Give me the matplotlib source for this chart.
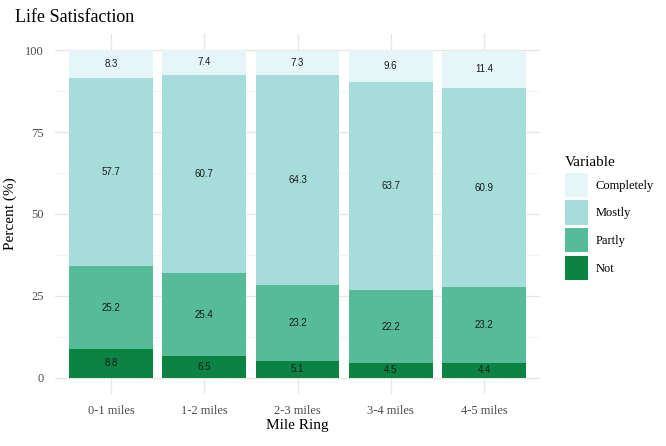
import matplotlib
matplotlib.use("Agg")
import matplotlib.pyplot as plt
import numpy as np

categories = ["0-1 miles", "1-2 miles", "2-3 miles", "3-4 miles", "4-5 miles"]
not_vals = [8.8, 6.5, 5.1, 4.5, 4.4]
partly_vals = [25.2, 25.4, 23.2, 22.2, 23.2]
mostly_vals = [57.7, 60.7, 64.3, 63.7, 60.9]
completely_vals = [8.3, 7.4, 7.3, 9.6, 11.4]

series = [("Not", not_vals, "#0b8443"),
          ("Partly", partly_vals, "#55bb98"),
          ("Mostly", mostly_vals, "#a6dcda"),
          ("Completely", completely_vals, "#e6f5f8")]

serif = "Liberation Serif"
fig = plt.figure(figsize=(6.66, 4.46), dpi=100)
ax = fig.add_axes([55/666, 1-394/446, (540-55)/666, (394-34)/446])

x = np.arange(1, len(categories) + 1)
bottom = np.zeros(len(categories))
handles = {}
for name, vals, col in series:
    vals = np.array(vals)
    b = ax.bar(x, vals, width=0.9, bottom=bottom, color=col, edgecolor="none", zorder=2)
    handles[name] = b
    for xi, bi, vi in zip(x, bottom, vals):
        ax.text(xi, bi + vi / 2, f"{vi:.1f}", ha="center", va="center",
                fontsize=7, family="Liberation Sans", color="#1a1a1a", zorder=3)
    bottom += vals

ax.set_xlim(0.4, 5.6)
ax.set_ylim(-5, 105)
ax.set_yticks([0, 25, 50, 75, 100])
ax.set_yticks([12.5, 37.5, 62.5, 87.5], minor=True)
ax.set_xticks(x)
ax.set_xticklabels(categories)
ax.grid(True, which="major", color="#e6e6e6", linewidth=0.9, zorder=0)
ax.grid(True, which="minor", axis="y", color="#f2f2f2", linewidth=0.6, zorder=0)
ax.set_axisbelow(True)
for s in ax.spines.values():
    s.set_visible(False)
ax.tick_params(which="both", length=0)
ax.tick_params(labelsize=9, labelcolor="#4d4d4d", pad=8)
for lab in ax.get_xticklabels() + ax.get_yticklabels():
    lab.set_family(serif)
ax.set_xlabel("Mile Ring", family=serif, fontsize=11, labelpad=1)
ax.set_ylabel("Percent (%)", family=serif, fontsize=11, labelpad=6)
fig.text(15/666, 1-18/446, "Life Satisfaction", family=serif, fontsize=13, va="center", ha="left")

order = ["Completely", "Mostly", "Partly", "Not"]
leg = fig.legend([handles[n] for n in order], order, loc="upper left",
                 bbox_to_anchor=(554/666, 1-145/446), frameon=False,
                 title="Variable", prop={"family": serif, "size": 9},
                 handlelength=1.8, handleheight=2.6, labelspacing=0.28,
                 handletextpad=0.6, alignment="left")
leg.get_title().set_family(serif)
leg.get_title().set_fontsize(11)

fig.savefig("out.png", dpi=100)
